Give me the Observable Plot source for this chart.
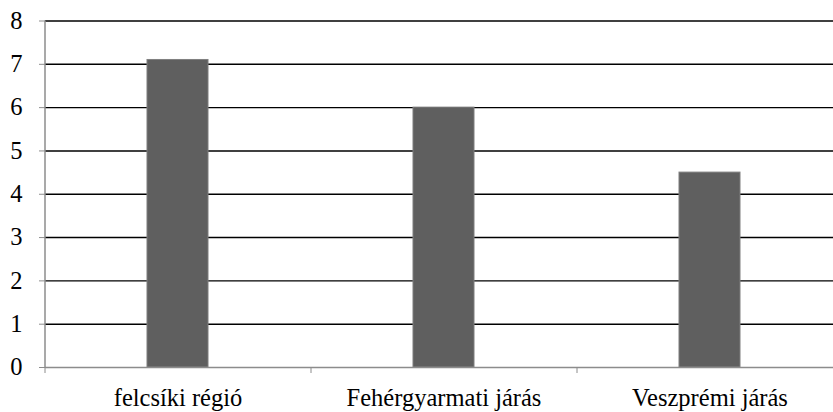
<!DOCTYPE html>
<html><head><meta charset="utf-8">
<script src="https://cdn.jsdelivr.net/npm/d3@7"></script>
<script src="https://cdn.jsdelivr.net/npm/@observablehq/plot@0.6"></script>
<style>body{margin:0;background:#fff}</style>
</head><body><div id="chart"></div>
<script>
const categories = ["felcsíki régió", "Fehérgyarmati járás", "Veszprémi járás"];
const values = [7.1, 6.0, 4.5];
const yTicks = [0, 1, 2, 3, 4, 5, 6, 7, 8];

const data = categories.map((c, i) => ({category: c, value: values[i]}));
const W = 833, H = 412, ML = 45, MR = -10, MT = 20.5, MB = 45;
const step = (W - ML - MR) / categories.length;
const font = "'Liberation Serif', 'Times New Roman', serif";

const chart = Plot.plot({
  width: W, height: H,
  marginLeft: ML, marginRight: MR, marginTop: MT, marginBottom: MB,
  style: {fontFamily: font, fontSize: "24.5px", color: "black", background: "white"},
  x: {domain: categories, paddingInner: 0.77, paddingOuter: 0.385, label: null},
  y: {domain: [0, 8], ticks: yTicks, label: null},
  marks: [
    Plot.ruleY(yTicks.filter(d => d > 0), {stroke: "black", strokeWidth: 1.4}),
    Plot.barY(data, {x: "category", y: "value", fill: "#5f5f5f", stroke: "#7f7f7f", strokeWidth: 1}),
    Plot.ruleY([0], {stroke: "#8c8c8c", strokeWidth: 1.5}),
    Plot.ruleX([categories[0]], {y1: 0, y2: 8, dx: -step / 2, stroke: "#8c8c8c", strokeWidth: 1.5}),
    Plot.axisY({ticks: yTicks, tickSize: 6, tickPadding: 17, stroke: "#8c8c8c", fill: "black", fontSize: 24.5, fontFamily: font, tickFormat: d => String(d), label: null}),
    Plot.axisX({tickSize: 6, dx: -step / 2, text: null, stroke: "#8c8c8c", label: null}),
    Plot.axisX({tickSize: 0, tickPadding: 21, fill: "black", fontSize: 24.5, fontFamily: font, label: null})
  ]
});
document.getElementById("chart").appendChild(chart);
</script>
</body></html>
